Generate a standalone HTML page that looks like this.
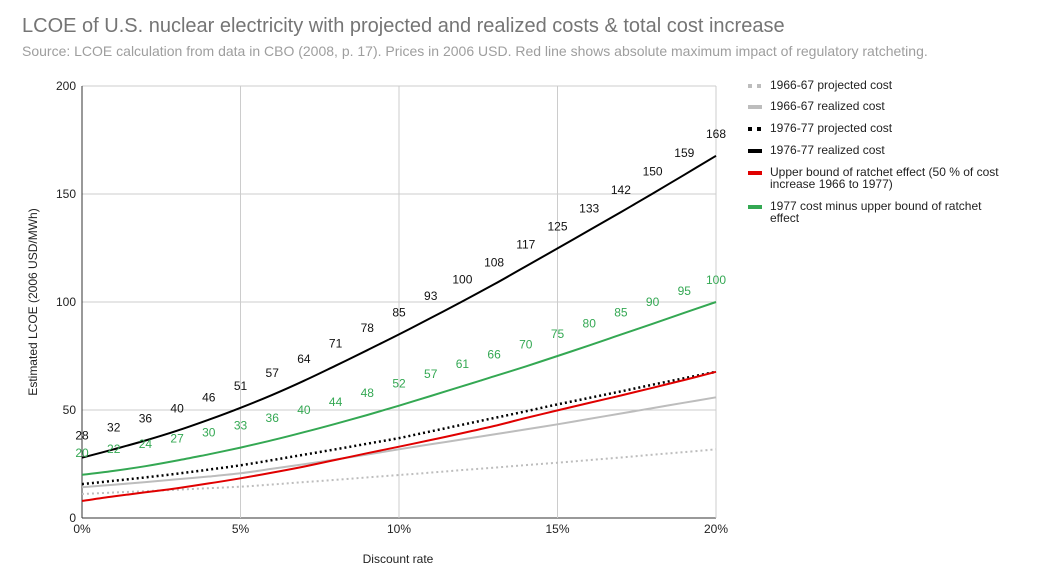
<!DOCTYPE html>
<html><head><meta charset="utf-8"><style>
body{margin:0;background:#fff;font-family:"Liberation Sans",Arial,sans-serif;}
svg text{font-family:"Liberation Sans",Arial,sans-serif;}
</style></head><body>
<svg id="chart" width="1040" height="581" xmlns="http://www.w3.org/2000/svg">
<text x="22" y="32" font-size="20" fill="#757575">LCOE of U.S. nuclear electricity with projected and realized costs &amp; total cost increase</text>
<text x="22" y="56" font-size="14" fill="#9e9e9e">Source: LCOE calculation from data in CBO (2008, p. 17). Prices in 2006 USD. Red line shows absolute maximum impact of regulatory ratcheting.</text>
<g id="grid"></g><g id="series"></g><g id="labels"></g><g id="axes"></g>
<text x="398" y="563" font-size="12" text-anchor="middle" fill="#222">Discount rate</text>
<text transform="translate(37,302) rotate(-90)" font-size="12" text-anchor="middle" fill="#222">Estimated LCOE (2006 USD/MWh)</text>
<g id="legend"></g>
</svg>
<script>
const rates=[0,1,2,3,4,5,6,7,8,9,10,11,12,13,14,15,16,17,18,19,20];
const realized77=[27.9,31.8,35.9,40.4,45.5,51.0,57.0,63.5,70.5,77.7,85.0,92.6,100.3,108.2,116.5,124.8,133.2,141.6,150.2,158.9,167.7];
const minusRatchet=[20.0,21.8,24.0,26.6,29.5,32.6,36.0,39.7,43.6,47.7,52.0,56.5,61.0,65.6,70.2,75.0,79.9,84.9,89.9,95.0,100.0];
const projected77=[15.7,17.2,18.8,20.5,22.4,24.4,26.8,29.3,31.8,34.4,37,40.1,43.2,46.3,49.4,52.6,55.6,58.6,61.7,64.7,67.7];
const realized66=[14.2,15.4,16.6,17.9,19.2,20.7,22.8,24.9,27.1,29.4,31.8,34.1,36.4,38.7,41.0,43.4,45.9,48.4,50.9,53.4,55.9];
const projected66=[11.1,11.8,12.4,13.1,13.8,14.5,15.5,16.6,17.7,18.8,19.9,21.0,22.2,23.3,24.5,25.6,26.8,28.0,29.3,30.5,31.8];
const ratchet=realized77.map((v,i)=>v-minusRatchet[i]);
const xTicks=[0,5,10,15,20];
const xTickLabels=["0%","5%","10%","15%","20%"];
const yTicks=[0,50,100,150,200];

const NS="http://www.w3.org/2000/svg";
const X=v=>82+(v/20)*634, Y=v=>518-(v/200)*432;
function mk(p,t,a){const e=document.createElementNS(NS,t);for(const k in a)e.setAttribute(k,a[k]);p.appendChild(e);return e;}
const grid=document.getElementById('grid'),axes=document.getElementById('axes'),ser=document.getElementById('series'),lab=document.getElementById('labels'),leg=document.getElementById('legend');
yTicks.forEach(t=>{
 const l=mk(grid,'line',{x1:82,x2:716,y1:Y(t),y2:Y(t),stroke:t===0?'#333':'#ccc','stroke-width':1});
 
 
 const tx=mk(axes,'text',{x:76,y:Y(t)+4,'font-size':12,'text-anchor':'end',fill:'#222'});tx.textContent=t;
 
 
});
xTicks.forEach((t,i)=>{
 const l=mk(grid,'line',{x1:X(t),x2:X(t),y1:86,y2:518,stroke:i===0?'#333':'#ccc','stroke-width':1});
 
 
 const tx=mk(axes,'text',{x:X(t),y:533,'font-size':12,'text-anchor':'middle',fill:'#222'});tx.textContent=xTickLabels[i];
 
 
});
function smoothPath(arr){
 const P=arr.map((v,i)=>[X(rates[i]),Y(v)]);
 let d='M'+P[0][0].toFixed(1)+' '+P[0][1].toFixed(1);
 for(let i=0;i<P.length-1;i++){
  const p0=P[i-1]||P[i],p1=P[i],p2=P[i+1],p3=P[i+2]||P[i+1];
  const c1=[p1[0]+(p2[0]-p0[0])/6,p1[1]+(p2[1]-p0[1])/6];
  const c2=[p2[0]-(p3[0]-p1[0])/6,p2[1]-(p3[1]-p1[1])/6];
  d+=' C'+c1[0].toFixed(1)+' '+c1[1].toFixed(1)+' '+c2[0].toFixed(1)+' '+c2[1].toFixed(1)+' '+p2[0].toFixed(1)+' '+p2[1].toFixed(1);
 }
 return d;
}
function line(arr,color,dash,name,w){
 const p=mk(ser,'path',{d:smoothPath(arr),fill:'none',stroke:color,'stroke-width':w||2});
 if(dash)p.setAttribute('stroke-dasharray',dash);
 
 
}
line(projected66,'#bdbdbd','2 3','series-1966-projected');
line(realized66,'#bdbdbd',null,'series-1966-realized');
line(projected77,'#000','2 3','series-1977-projected',2.5);
line(realized77,'#000',null,'series-1977-realized');
line(ratchet,'#e00000',null,'series-ratchet-upper-bound');
line(minusRatchet,'#34a853',null,'series-1977-minus-ratchet');
function labels(arr,color,name){
 arr.forEach((v,i)=>{
  const t=mk(lab,'text',{x:X(rates[i]),y:Y(v)-18,'font-size':12,'text-anchor':'middle',fill:color});
  t.textContent=Math.round(v);
  
  
 });
}
labels(realized77,'#111','data-label-1977-realized');
labels(minusRatchet,'#34a853','data-label-minus-ratchet');
const legItems=[["1966-67 projected cost","#bdbdbd",true,89],["1966-67 realized cost","#bdbdbd",false,110],["1976-77 projected cost","#000",true,132],["1976-77 realized cost","#000",false,154],["Upper bound of ratchet effect (50 % of cost|increase 1966 to 1977)","#e00000",false,176],["1977 cost minus upper bound of ratchet|effect","#34a853",false,210]];
legItems.forEach(it=>{
 const g=mk(leg,'g',{});
 
 
 if(it[2]){mk(g,'rect',{x:748,y:it[3]-5,width:4,height:4,fill:it[1]});mk(g,'rect',{x:757,y:it[3]-5,width:4,height:4,fill:it[1]});}
 else mk(g,'rect',{x:748,y:it[3]-5,width:14,height:4,fill:it[1]});
 it[0].split('|').forEach((s,j)=>{const t=mk(g,'text',{x:770,y:it[3]+j*12,'font-size':12,fill:'#222'});t.textContent=s;});
});
</script>
</body></html>
